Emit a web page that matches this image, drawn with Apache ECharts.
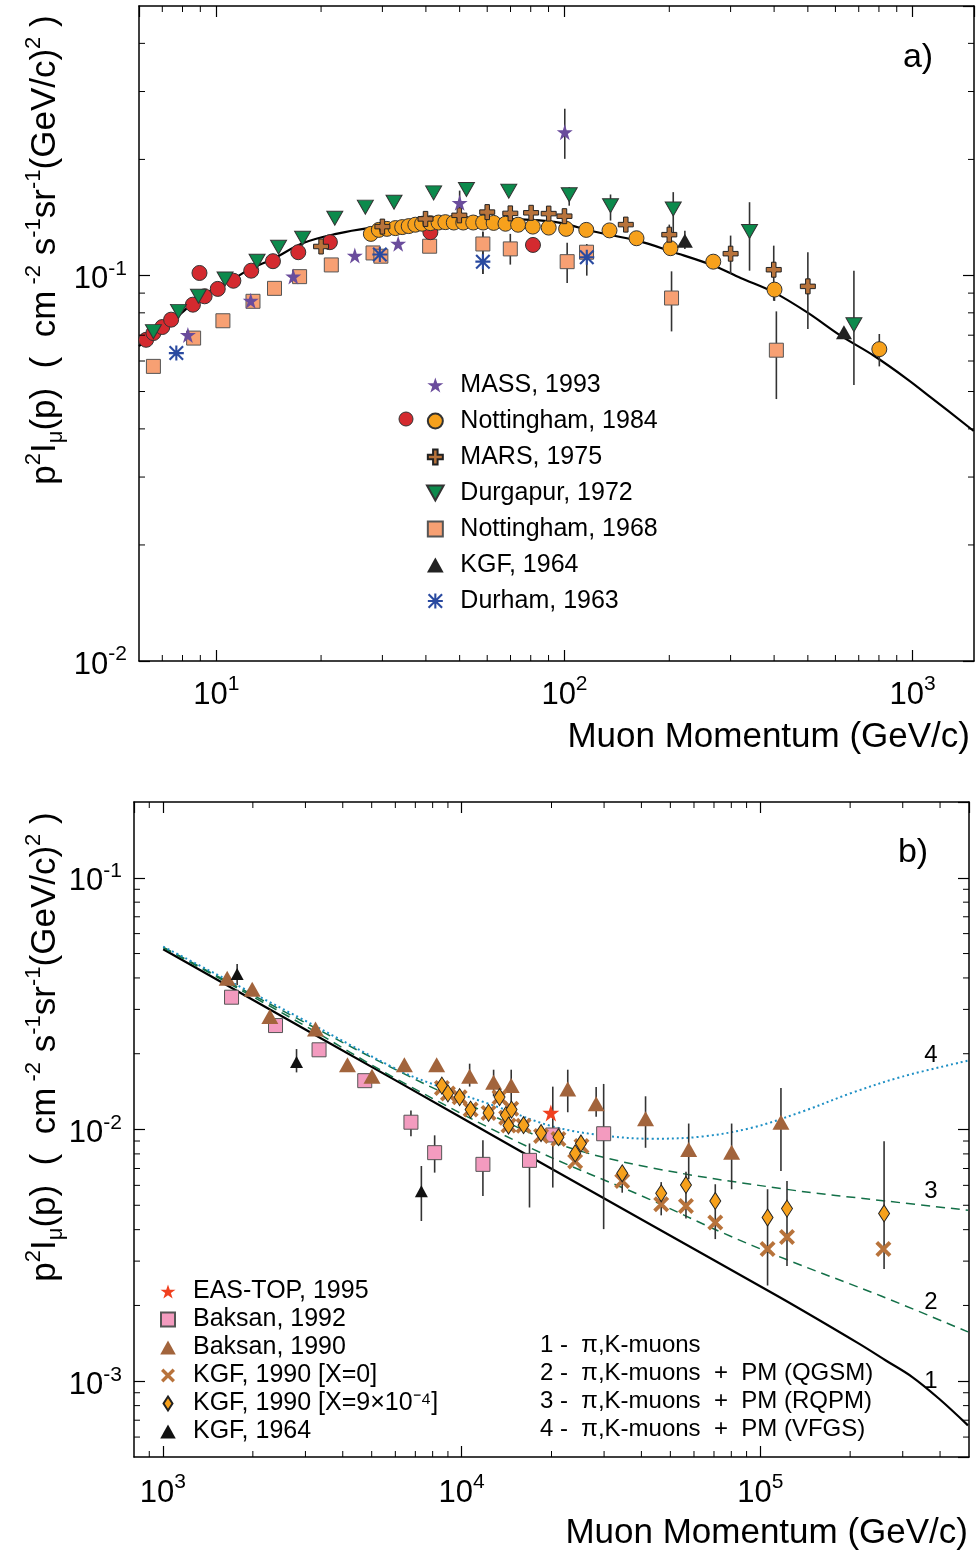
<!DOCTYPE html>
<html><head><meta charset="utf-8">
<script src="https://cdn.jsdelivr.net/npm/echarts@6/dist/echarts.min.js"></script>
<style>html,body{margin:0;padding:0;background:#fff}#c{width:977px;height:1556px}</style>
</head><body><div id="c"></div>
<script>
// ---------------- Panel a) data ----------------
const xRangeA = [6, 1500];
const yRangeA = [0.01, 0.5];
const xMinorA = [7, 8, 9, 20, 30, 40, 50, 60, 70, 80, 90, 200, 300, 400, 500, 600, 700, 800, 900];
const yMinorA = [0.02, 0.03, 0.04, 0.05, 0.06, 0.07, 0.08, 0.09, 0.2, 0.3, 0.4];

const massA = [[8.29,0.0701],[12.56,0.0860],[16.64,0.0994],[25.0,0.1126],[33.3,0.1209],[50.0,0.1543],[100.2,0.2354]];
const massErrA = [[50.0,0.143,0.166],[100.2,0.2007,0.2707]];
const nott84LowA = [[6.29,0.0681],[6.60,0.0709],[7.0,0.0735],[7.42,0.0768],[8.57,0.0840],[8.95,0.1015],[9.26,0.0883],[10.1,0.0923],[11.2,0.0969],[12.6,0.1029],[14.55,0.1089],[17.2,0.1149],[21.2,0.1220],[41.2,0.1295],[81.2,0.1200]];
const nott84HighA = [[27.8,0.1282],[29.3,0.1313],[30.9,0.1321],[32.7,0.1327],[34.2,0.1335],[35.7,0.1343],[37.3,0.1354],[39.0,0.1362],[41.2,0.1367],[43.5,0.1372],[45.5,0.1375],[48.1,0.1372],[51.2,0.1372],[54.7,0.1372],[58.4,0.1372],[62.6,0.1369],[67.7,0.1362],[73.6,0.1354],[81.1,0.1339],[90.1,0.1331],[101.1,0.1321],[115.5,0.1313],[134.7,0.1309],[161,0.1249],[201.6,0.1177],[267.5,0.1086],[401,0.0919],[802,0.0644]];
const nott84ErrA = [[401,0.0859,0.0962],[802,0.0581,0.0705]];
const marsA = [[20.0,0.1189],[30.0,0.1339],[39.9,0.1402],[49.9,0.1432],[60.0,0.1460],[69.9,0.1449],[80.2,0.1454],[90.1,0.1447],[100,0.1425],[150,0.1355],[200,0.1276],[300,0.1139],[399,0.1035],[500,0.0937]];
const marsErrA = [[150,0.1295,0.1416],[200,0.1231,0.1355],[300,0.1009,0.1269],[399,0.0860,0.1195],[500,0.0726,0.1149]];
const durgA = [[6.60,0.0715],[7.79,0.0807],[8.89,0.0883],[10.6,0.0979],[13.1,0.1089],[15.1,0.1184],[17.7,0.1249],[21.9,0.1408],[26.8,0.1504],[32.4,0.1549],[42.1,0.1638],[52.3,0.1671],[69.2,0.1655],[103.2,0.1619],[135.6,0.1517],[205.3,0.1488],[340,0.1300],[678,0.0745]];
const durgErrA = [[103.2,0.1517,0.1694],[135.6,0.1388,0.1622],[205.3,0.1269,0.1645],[340,0.1029,0.1549],[678,0.0520,0.1029]];
const nott68A = [[6.60,0.0581],[8.61,0.0688],[10.45,0.0763],[12.75,0.0857],[14.7,0.0926],[17.35,0.0993],[21.4,0.1065],[28.2,0.1144],[29.7,0.1122],[41.0,0.1191],[58.3,0.1207],[69.9,0.1172],[101.8,0.1086],[115.7,0.1149],[203,0.0874],[406,0.0640]];
const nott68ErrA = [[58.3,0.1009,0.1300],[69.9,0.1067,0.1282],[101.8,0.0956,0.1215],[203,0.0716,0.1025],[406,0.0478,0.0807]];
const kgf64A = [[221.7,0.1231],[634.8,0.0712]];
const kgf64ErrA = [[221.7,0.1172,0.1307]];
const durhamA = [[7.68,0.0629],[29.5,0.1133],[58.3,0.1086],[115.9,0.1115]];
const durhamErrA = [[58.3,0.1009,0.1296],[115.9,0.0999,0.1207]];
const modelA = [[6.0,0.0656],[6.9,0.0726],[7.88,0.0794],[9.0,0.0880],[11.4,0.0989],[12.6,0.1044],[14.55,0.1104],[17.7,0.1212],[22.1,0.1282],[27.6,0.1329],[38.6,0.1377],[57.4,0.1402],[79.9,0.1394],[97.4,0.1369],[121.4,0.1300],[161.8,0.1231],[206,0.1149],[268.5,0.1060],[320.5,0.0985],[399.4,0.0904],[498,0.0802],[621,0.0698],[774,0.0619],[966,0.0538],[1127,0.0483],[1497,0.0395]];

// ---------------- Panel b) data ----------------
const xRangeB = [800, 5e5];
const yRangeB = [5e-4, 0.2];
const xMinorB = [900, 2000, 3000, 4000, 5000, 6000, 7000, 8000, 9000, 2e4, 3e4, 4e4, 5e4, 6e4, 7e4, 8e4, 9e4, 2e5, 3e5, 4e5];
const yMinorB = [6e-4, 7e-4, 8e-4, 9e-4, 0.002, 0.003, 0.004, 0.005, 0.006, 0.007, 0.008, 0.009, 0.02, 0.03, 0.04, 0.05, 0.06, 0.07, 0.08, 0.09];

const easTopB = [[19900,0.01164]];
const baksan92B = [[1697,0.03354],[2382,0.02588],[3332,0.02073],[4739,0.01563],[6767,0.01069],[8124,0.00809],[11786,0.00727],[16880,0.00754],[20200,0.00951],[29900,0.00962]];
const baksan92ErrB = [[6767,0.00941,0.01189],[8124,0.00674,0.00948],[11786,0.00544,0.00907],[16880,0.0049,0.0088],[20200,0.00588,0.0148],[29900,0.00402,0.01517]];
const baksan90B = [[1641,0.0399],[1990,0.0361],[2280,0.0281],[3242,0.02505],[4148,0.01809],[5012,0.01626],[6433,0.01809],[8251,0.01809],[10640,0.01626],[12800,0.01539],[14660,0.01496],[22670,0.01449],[28220,0.01265],[41300,0.01104],[57600,0.00833],[80200,0.00813],[117300,0.01069]];
const baksan90ErrB = [[10640,0.01481,0.01826],[12800,0.01355,0.01728],[14660,0.01237,0.01728],[22670,0.01171,0.01728],[28220,0.01123,0.01476],[41300,0.00846,0.01355],[57600,0.00634,0.01056],[80200,0.00579,0.01056],[117300,0.00684,0.01463]];
const kgf90x0B = [[8590,0.01463],[9000,0.01389],[9850,0.01342],[10720,0.0120],[12310,0.01164],[13400,0.01342],[14660,0.01208],[14100,0.01113],[14360,0.01037],[16120,0.01034],[18450,0.00943],[21100,0.00917],[25200,0.00859],[24000,0.00747],[34500,0.00624],[46600,0.00505],[56400,0.00497],[70700,0.00427],[105800,0.00335],[122900,0.00374],[258400,0.00335]];
const kgf90x9B = [[8590,0.01494],[9000,0.01392],[9850,0.01345],[10720,0.0120],[12310,0.01164],[13400,0.01345],[14070,0.01141],[14700,0.0120],[14360,0.01037],[16120,0.0104],[18450,0.00968],[21100,0.00932],[25100,0.0088],[24000,0.00804],[34500,0.0067],[46600,0.00558],[56400,0.00602],[70700,0.0052],[105800,0.00447],[122900,0.00485],[259800,0.00464]];
const kgf90ErrB = [[34500,0.00561,0.00716],[46600,0.00456,0.00618],[56400,0.00443,0.0068],[70700,0.00367,0.00606],[105800,0.0024,0.00579],[122900,0.00287,0.00624],[259800,0.00279,0.00899]];
const kgf64B = [[1772,0.04148],[2801,0.01854],[7333,0.00569]];
const kgf64ErrB = [[1772,0.0375,0.0454],[2801,0.01686,0.02087],[7333,0.00433,0.00716]];
const curve1B = [[1002,0.0520],[6200,0.01535],[16460,0.00796],[42600,0.00421],[115800,0.00216],[214000,0.00141],[263300,0.001209],[323000,0.001039],[397000,0.000852],[496000,0.000668]];
const curve2B = [[1002,0.0528],[2872,0.02653],[6200,0.01563],[16880,0.00848],[42600,0.00528],[72900,0.00394],[121900,0.00305],[254000,0.00218],[496000,0.00157]];
const curve3B = [[1002,0.0530],[2872,0.02727],[6200,0.01698],[11490,0.0120],[21270,0.00872],[42600,0.00707],[121900,0.00579],[263000,0.00520],[496000,0.00478]];
const curve4B = [[1002,0.0533],[2872,0.02777],[6200,0.01714],[8440,0.01480],[13400,0.01222],[20200,0.01028],[29700,0.00947],[43600,0.00919],[64100,0.00938],[94300,0.01018],[138500,0.01179],[203500,0.01401],[299000,0.01622],[496000,0.01877]];

// ---------------- rendering ----------------
const FONT = 'Liberation Sans, Arial, Helvetica, sans-serif';
const STAR = 'path://M50,0 L61.8,35.4 L100,35.4 L69.1,57.3 L80.9,93.3 L50,71.4 L19.1,93.3 L30.9,57.3 L0,35.4 L38.2,35.4 Z';
const PLUS = 'path://M35,0 H65 V35 H100 V65 H65 V100 H35 V65 H0 V35 H35 Z';
const INVTRI = 'path://M0,0 L100,0 L50,90 Z';
const TRI = 'path://M50,0 L100,90 L0,90 Z';
const SQUARE = 'path://M0,0 H100 V100 H0 Z';
const DIAMOND = 'path://M32,0 L64,50 L32,100 L0,50 Z';
const ASTER = 'path://M43,0 H57 V100 H43 Z M0,43 H100 V57 H0 Z M10,0 L100,90 L90,100 L0,10 Z M90,0 L100,10 L10,100 L0,90 Z';
const XMARK = 'path://M17,0 L100,83 L83,100 L0,17 Z M83,0 L100,17 L17,100 L0,83 Z';

function expLabel(v) { const e = Math.round(Math.log10(v)); return '{b|10}{s|' + e + '}'; }
const labelRich = {
  b: {fontSize: 31, fontFamily: FONT, color: '#000', lineHeight: 34, padding: [8, 0, 0, 0]},
  s: {fontSize: 21, fontFamily: FONT, color: '#000', lineHeight: 21, verticalAlign: 'top'}
};
const axisLineS = {show: true, lineStyle: {color: '#000', width: 1.5}};
const tickS = {show: true, inside: true, length: 11, lineStyle: {color: '#000', width: 1.2}};

function axis(gi, range, pos, showLab, margin) {
  return {
    gridIndex: gi, type: 'log', logBase: 10, min: range[0], max: range[1], position: pos,
    axisLine: axisLineS, axisTick: tickS, splitLine: {show: false}, minorTick: {show: false},
    axisLabel: showLab ? {show: true, formatter: expLabel, rich: labelRich, margin: margin,
      showMinLabel: pos === 'left' && gi === 0, showMaxLabel: false} : {show: false}
  };
}

function sc(name, data, ai, symbol, size, color, border, z) {
  return {
    name: name, type: 'scatter', data: data, xAxisIndex: ai, yAxisIndex: ai,
    symbol: symbol, symbolSize: size, z: z || 4,
    itemStyle: {color: color, borderColor: border || color, borderWidth: border ? 1 : 0, opacity: 1},
    emphasis: {disabled: true}
  };
}
function errs(data, ai, color) {
  return {
    type: 'custom', xAxisIndex: ai, yAxisIndex: ai, data: data, z: 2, silent: true,
    encode: {x: 0, y: [1, 2]},
    renderItem: function (params, api) {
      const a = api.coord([api.value(0), api.value(1)]);
      const b = api.coord([api.value(0), api.value(2)]);
      return {type: 'line', shape: {x1: a[0], y1: a[1], x2: b[0], y2: b[1]},
        style: {stroke: color || '#333', lineWidth: 1.6}};
    }
  };
}
function minorTicks(values, ai, isX, other) {
  return {
    type: 'custom', xAxisIndex: ai, yAxisIndex: ai, silent: true, z: 10, clip: false,
    data: values.map(v => isX ? [v, other] : [other, v]),
    renderItem: function (params, api) {
      const cs = params.coordSys;
      const p = api.coord([api.value(0), api.value(1)]);
      const st = {stroke: '#000', lineWidth: 1};
      const L = 6;
      if (isX) {
        return {type: 'group', children: [
          {type: 'line', shape: {x1: p[0], y1: cs.y + cs.height, x2: p[0], y2: cs.y + cs.height - L}, style: st},
          {type: 'line', shape: {x1: p[0], y1: cs.y, x2: p[0], y2: cs.y + L}, style: st}]};
      }
      return {type: 'group', children: [
        {type: 'line', shape: {x1: cs.x, y1: p[1], x2: cs.x + L, y2: p[1]}, style: st},
        {type: 'line', shape: {x1: cs.x + cs.width, y1: p[1], x2: cs.x + cs.width - L, y2: p[1]}, style: st}]};
    }
  };
}
function curve(data, ai, color, width, type) {
  return {type: 'line', data: data, xAxisIndex: ai, yAxisIndex: ai, showSymbol: false, symbol: 'none',
    smooth: 0.35, z: 1, silent: true, lineStyle: {color: color, width: width, type: type}, emphasis: {disabled: true}};
}

const chart = echarts.init(document.getElementById('c'), null, {renderer: 'canvas'});

const yTitle = '{t|p}{s|2}{t|I}{u|\u03bc}{t|(p)  (  cm}{s| -2}{t| s}{s|-1}{t|sr}{s|-1}{t|(GeV/c)}{s|2}{t| )}';
const yTitleRich = {
  t: {fontSize: 35, fontFamily: FONT, fill: '#000', lineHeight: 44},
  s: {fontSize: 22, fontFamily: FONT, fill: '#000', lineHeight: 22, verticalAlign: 'top'},
  u: {fontSize: 22, fontFamily: FONT, fill: '#000', lineHeight: 22, verticalAlign: 'bottom'}
};

function txt(x, y, text, size, align, extra) {
  return Object.assign({type: 'text', x: x, y: y, z: 100, silent: true,
    style: {text: text, fontSize: size, fontFamily: FONT, fill: '#000', align: align || 'left', verticalAlign: 'middle'}}, extra || {});
}

const KGF9 = 'KGF, 1990 [X=9\u00d710\u207b\u2074]';

const option = {
  animation: false,
  backgroundColor: '#fff',
  grid: [
    {left: 139, top: 6, width: 835, height: 655, show: false, outerBoundsMode: 'none'},
    {left: 134, top: 802, width: 835, height: 655, show: false, outerBoundsMode: 'none'}
  ],
  xAxis: [axis(0, xRangeA, 'bottom', true, 13), axis(0, xRangeA, 'top', false),
          axis(1, xRangeB, 'bottom', true, 15), axis(1, xRangeB, 'top', false)],
  yAxis: [axis(0, yRangeA, 'left', true, 12), axis(0, yRangeA, 'right', false),
          axis(1, yRangeB, 'left', true, 12), axis(1, yRangeB, 'right', false)],
  legend: [
    {orient: 'vertical', left: 426, top: 370, padding: 0, itemWidth: 40, itemHeight: 15, itemGap: 6,
      selectedMode: false,
      textStyle: {fontSize: 25, fontFamily: FONT, color: '#000', lineHeight: 30},
      data: ['MASS, 1993', 'Nottingham, 1984', 'MARS, 1975', 'Durgapur, 1972', 'Nottingham, 1968', 'KGF, 1964', 'Durham, 1963']},
    {orient: 'vertical', left: 160, top: 1279, padding: 0, itemWidth: 40, itemHeight: 14, itemGap: 3,
      selectedMode: false,
      textStyle: {fontSize: 25, fontFamily: FONT, color: '#000', lineHeight: 24},
      data: ['EAS-TOP, 1995', 'Baksan, 1992', 'Baksan, 1990', 'KGF, 1990 [X=0]', KGF9, 'KGF, 1964 ']}
  ],
  graphic: [
    txt(918, 58, 'a)', 34, 'center'),
    txt(913, 853, 'b)', 34, 'center'),
    txt(970, 737, 'Muon Momentum (GeV/c)', 35, 'right'),
    txt(968, 1533, 'Muon Momentum (GeV/c)', 35, 'right'),
    {type: 'text', x: 45, y: 250, rotation: Math.PI / 2, z: 100, silent: true,
      style: {text: yTitle, rich: yTitleRich, fontSize: 35, fontFamily: FONT, fill: '#000', align: 'center', verticalAlign: 'middle'}},
    {type: 'text', x: 45, y: 1047, rotation: Math.PI / 2, z: 100, silent: true,
      style: {text: yTitle, rich: yTitleRich, fontSize: 35, fontFamily: FONT, fill: '#000', align: 'center', verticalAlign: 'middle'}},
    {type: 'circle', shape: {cx: 406, cy: 419, r: 7}, z: 100, silent: true, style: {fill: '#d42a2f', stroke: '#333', lineWidth: 1}},
    txt(931, 1055, '4', 24, 'center'),
    txt(931, 1191, '3', 24, 'center'),
    txt(931, 1302, '2', 24, 'center'),
    txt(931, 1381, '1', 24, 'center'),
    txt(540, 1345, '1 -  \u03c0,K-muons', 24, 'left'),
    txt(540, 1373, '2 -  \u03c0,K-muons  +  PM (QGSM)', 24, 'left'),
    txt(540, 1401, '3 -  \u03c0,K-muons  +  PM (RQPM)', 24, 'left'),
    txt(540, 1429, '4 -  \u03c0,K-muons  +  PM (VFGS)', 24, 'left')
  ],
  series: [
    // panel a
    curve(modelA, 0, '#000', 2.2, 'solid'),
    minorTicks(xMinorA, 0, true, yRangeA[0]),
    minorTicks(yMinorA, 0, false, xRangeA[0]),
    errs(massErrA, 0), errs(nott84ErrA, 0), errs(marsErrA, 0), errs(durgErrA, 0),
    errs(nott68ErrA, 0), errs(kgf64ErrA, 0), errs(durhamErrA, 0),
    sc('Nottingham, 1968', nott68A, 0, SQUARE, 14, '#f7a073', '#555'),
    sc('Nottingham, 1984', nott84HighA, 0, 'circle', 15, '#f7a11c', '#333', 5),
    sc('Nottingham, 1984', nott84LowA, 0, 'circle', 15, '#d42a2f', '#333', 4),
    sc('MARS, 1975', marsA, 0, PLUS, 15, '#b8733b', '#222', 6),
    sc('Durgapur, 1972', durgA, 0, INVTRI, [16, 14], '#0c8a4c', '#333', 6),
    sc('KGF, 1964', kgf64A, 0, TRI, [16, 14], '#222', null, 6),
    sc('Durham, 1963', durhamA, 0, ASTER, 15, '#2a4aa0', null, 7),
    sc('MASS, 1993', massA, 0, STAR, 16, '#6a4c9c', null, 8),
    // panel b
    curve(curve1B, 2, '#000', 2.2, 'solid'),
    curve(curve2B, 2, '#137048', 1.5, [9, 6]),
    curve(curve3B, 2, '#137048', 1.5, [9, 6]),
    curve(curve4B, 2, '#1d8fc4', 2, [2, 3]),
    minorTicks(xMinorB, 2, true, yRangeB[0]),
    minorTicks(yMinorB, 2, false, xRangeB[0]),
    errs(baksan92ErrB, 2), errs(baksan90ErrB, 2), errs(kgf90ErrB, 2), errs(kgf64ErrB, 2),
    sc('Baksan, 1992', baksan92B, 2, SQUARE, 14, '#f39bbf', '#555'),
    sc('Baksan, 1990', baksan90B, 2, TRI, [17, 15], '#a2643c', null, 5),
    sc('KGF, 1990 [X=0]', kgf90x0B, 2, XMARK, 16, '#b8733b', null, 6),
    sc(KGF9, kgf90x9B, 2, DIAMOND, [11, 17], '#f7a11c', '#222', 7),
    sc('KGF, 1964 ', kgf64B, 2, TRI, [13, 12], '#111', null, 7),
    sc('EAS-TOP, 1995', easTopB, 2, STAR, 17, '#f0401f', null, 8)
  ]
};
chart.setOption(option);
</script>
</body></html>
